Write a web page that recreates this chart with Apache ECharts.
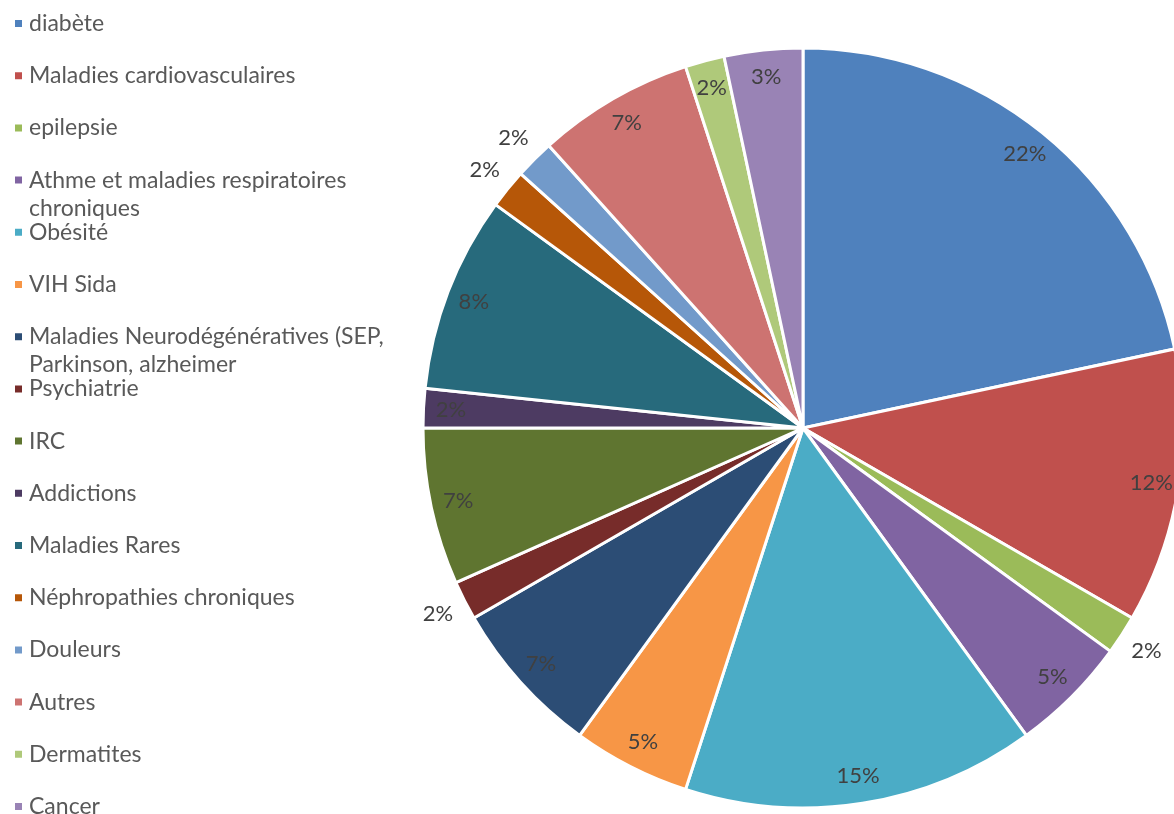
<!DOCTYPE html>
<html lang="fr">
<head>
    <meta charset="UTF-8">
    <title>Pathologies</title>
    <script src="https://cdn.jsdelivr.net/npm/echarts@6/dist/echarts.min.js"></script>
    <style>
        html, body { margin: 0; padding: 0; background: #fff; }
        #main { width: 1174px; height: 814px; }
    </style>
</head>
<body>
<div id="main"></div>
<script type="text/javascript">
    // données (nombre de réponses)
    var names = ['diabète', 'Maladies cardiovasculaires', 'epilepsie',
        'Athme et maladies respiratoires chroniques', 'Obésité', 'VIH Sida',
        'Maladies Neurodégénératives (SEP, Parkinson, alzheimer', 'Psychiatrie', 'IRC',
        'Addictions', 'Maladies Rares', 'Néphropathies chroniques', 'Douleurs',
        'Autres', 'Dermatites', 'Cancer'];
    var values = [13, 7, 1, 3, 9, 3, 4, 1, 4, 1, 5, 1, 1, 4, 1, 2];
    var colors = ['#4F81BD', '#C0504D', '#9BBB59', '#8064A2', '#4BACC6', '#F79646',
        '#2C4D75', '#772C2A', '#5F7530', '#4D3B62', '#276A7C', '#B65708',
        '#729ACA', '#CD7371', '#AFC97A', '#9983B5'];
    // étiquettes placées hors du camembert
    var outsideLabels = [2, 7, 11, 12];

    var total = values.reduce(function (a, b) { return a + b; }, 0);
    var R = 380;
    var FONT = 'Lato';

    function pct(p) {
        return Math.round(p.value / total * 100) + '%';
    }
    function wrapName(n) {
        return n.replace('respiratoires ', 'respiratoires\n').replace('(SEP, ', '(SEP,\n');
    }

    var chart = echarts.init(document.getElementById('main'));

    var legends = names.map(function (n, i) {
        var mid = 23.5 + i * 52.2;
        var wrapped = wrapName(n) !== n;
        return {
            orient: 'vertical',
            left: 13,
            top: wrapped ? mid - 42 : mid - 14,
            padding: 0,
            data: [n],
            icon: 'rect',
            itemWidth: 9,
            itemHeight: 9,
            selectedMode: false,
            formatter: function (name) {
                var w = wrapName(name);
                return w !== name ? '\n' + w : name;
            },
            textStyle: {
                fontFamily: FONT,
                fontSize: 23,
                color: '#595959',
                lineHeight: 28,
                padding: [0, 0, 0, 1]
            }
        };
    });

    chart.setOption({
        animation: false,
        color: colors,
        legend: legends,
        series: [
            {
                name: 'Pathologies',
                type: 'pie',
                center: [803, 428],
                radius: [0, R],
                startAngle: 90,
                clockwise: true,
                label: { show: false },
                labelLine: { show: false },
                emphasis: { disabled: true },
                itemStyle: { borderColor: '#fff', borderWidth: 3 },
                data: names.map(function (n, i) {
                    return { name: n, value: values[i] };
                })
            },
            {
                // étiquettes intérieures
                type: 'pie',
                silent: true,
                center: [803, 428],
                radius: [R * 0.84, R],
                startAngle: 90,
                itemStyle: { color: 'transparent', borderWidth: 0 },
                emphasis: { disabled: true },
                labelLine: { show: false },
                data: values.map(function (v, i) {
                    return {
                        value: v,
                        label: {
                            show: outsideLabels.indexOf(i) < 0,
                            position: 'inside',
                            formatter: pct,
                            fontFamily: FONT,
                            fontSize: 22,
                            color: '#404040'
                        }
                    };
                })
            },
            {
                // étiquettes extérieures
                type: 'pie',
                silent: true,
                center: [803, 428],
                radius: [R, R * 1.14],
                startAngle: 90,
                itemStyle: { color: 'transparent', borderWidth: 0 },
                emphasis: { disabled: true },
                labelLine: { show: false },
                data: values.map(function (v, i) {
                    return {
                        value: v,
                        label: {
                            show: outsideLabels.indexOf(i) >= 0,
                            position: 'inside',
                            formatter: pct,
                            fontFamily: FONT,
                            fontSize: 22,
                            color: '#404040'
                        }
                    };
                })
            }
        ]
    });
</script>
</body>
</html>
